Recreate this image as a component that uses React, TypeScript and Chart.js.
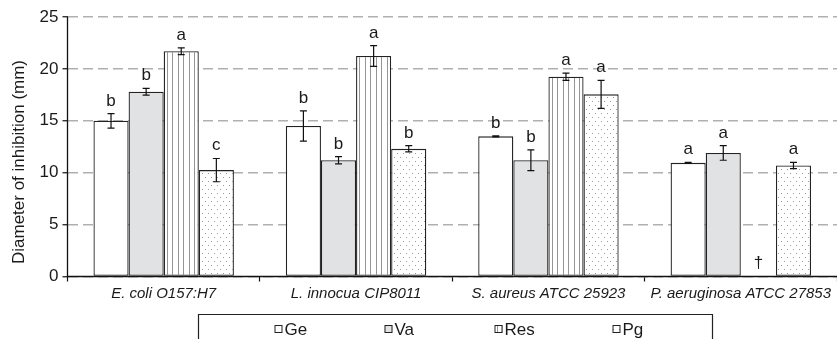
import React, { useEffect, useRef } from 'react';
import { Chart, registerables } from 'chart.js';

Chart.register(...registerables);

const categories = ['E. coli O157:H7', 'L. innocua CIP8011', 'S. aureus ATCC 25923', 'P. aeruginosa ATCC 27853'];
const seriesNames = ['Ge', 'Va', 'Res', 'Pg'];

const geValues = [15.0, 14.5, 13.5, 10.95];
const geErrors = [0.7, 1.45, 0.05, 0.05];
const geLetters = ['b', 'b', 'b', 'a'];

const vaValues = [17.8, 11.2, 11.2, 11.9];
const vaErrors = [0.33, 0.35, 1.0, 0.7];
const vaLetters = ['b', 'b', 'b', 'a'];

const resValues = [21.7, 21.25, 19.25, null];
const resErrors = [0.33, 1.0, 0.35, 0];
const resLetters = ['a', 'a', 'a', '†'];

const pgValues = [10.25, 12.3, 17.55, 10.7];
const pgErrors = [1.12, 0.3, 1.35, 0.3];
const pgLetters = ['c', 'b', 'a', 'a'];

const yTicks = [0, 5, 10, 15, 20, 25];
const yTitle = 'Diameter of inhibition (mm)';

const errorSets = [geErrors, vaErrors, resErrors, pgErrors];
const letterSets = [geLetters, vaLetters, resLetters, pgLetters];

const FONT = '"Liberation Sans", Arial, Helvetica, sans-serif';

function stripePattern(ctx: CanvasRenderingContext2D) {
  const c = document.createElement('canvas');
  c.width = 11; c.height = 4;
  const p = c.getContext('2d')!;
  p.fillStyle = '#ffffff'; p.fillRect(0, 0, 11, 4);
  p.fillStyle = '#959595';
  p.fillRect(2, 0, 1, 4);
  p.fillRect(7, 0, 1, 4);
  return ctx.createPattern(c, 'repeat')!;
}

function dotPattern(ctx: CanvasRenderingContext2D) {
  const c = document.createElement('canvas');
  c.width = 6; c.height = 8;
  const p = c.getContext('2d')!;
  p.fillStyle = '#ffffff'; p.fillRect(0, 0, 6, 8);
  p.fillStyle = '#9c9c9c';
  p.fillRect(1, 1, 1, 1);
  p.fillRect(4, 5, 1, 1);
  return ctx.createPattern(c, 'repeat')!;
}

export default function App() {
  const ref = useRef<HTMLCanvasElement>(null);

  useEffect(() => {
    const canvas = ref.current!;
    const ctx = canvas.getContext('2d')!;
    const stripes = stripePattern(ctx);
    const dots = dotPattern(ctx);
    const fills: any[] = ['#ffffff', '#e1e2e4', stripes, dots];
    const values = [geValues, vaValues, resValues, pgValues];

    const overlay = {
      id: 'overlay',
      afterDatasetsDraw(chart: any) {
        const { ctx, chartArea, scales } = chart;
        const y = scales.y;
        ctx.save();
        ctx.strokeStyle = '#111';
        ctx.lineWidth = 1.3;
        ctx.setLineDash([]);
        ctx.beginPath();
        ctx.moveTo(chartArea.left, chartArea.top);
        ctx.lineTo(chartArea.left, chartArea.bottom);
        ctx.lineTo(chartArea.right, chartArea.bottom);
        ctx.stroke();

        chart.data.datasets.forEach((ds: any, i: number) => {
          const meta = chart.getDatasetMeta(i);
          ds.data.forEach((v: number | null, j: number) => {
            const el = meta.data[j];
            const x = el.x;
            const letter = letterSets[i][j];
            ctx.fillStyle = '#1a1a1a';
            ctx.textAlign = 'center';
            ctx.textBaseline = 'alphabetic';
            if (v == null) {
              if (letter) {
                ctx.font = `17px ${FONT}`;
                ctx.fillText(letter, x, y.getPixelForValue(0) - 9);
              }
              return;
            }
            const e = errorSets[i][j];
            const top = y.getPixelForValue(v + e);
            const bot = y.getPixelForValue(v - e);
            ctx.strokeStyle = '#111';
            ctx.lineWidth = 1.2;
            ctx.beginPath();
            ctx.moveTo(x, top); ctx.lineTo(x, bot);
            ctx.moveTo(x - 3.5, top); ctx.lineTo(x + 3.5, top);
            ctx.moveTo(x - 3.5, bot); ctx.lineTo(x + 3.5, bot);
            ctx.stroke();
            if (letter) {
              ctx.font = `17px ${FONT}`;
              ctx.fillText(letter, x, top - 8);
            }
          });
        });
        ctx.restore();
      },
      afterDraw(chart: any) {
        const { ctx } = chart;
        ctx.save();
        ctx.translate(19, 162);
        ctx.rotate(-Math.PI / 2);
        ctx.fillStyle = '#1a1a1a';
        ctx.font = `17px ${FONT}`;
        ctx.textAlign = 'center';
        ctx.textBaseline = 'middle';
        ctx.fillText(yTitle, 0, 0);
        ctx.restore();

        ctx.save();
        const boxL = 198.5, boxR = 712.5, boxT = 314.5;
        ctx.strokeStyle = '#222';
        ctx.lineWidth = 1.2;
        ctx.beginPath();
        ctx.moveTo(boxL, chart.height + 2);
        ctx.lineTo(boxL, boxT);
        ctx.lineTo(boxR, boxT);
        ctx.lineTo(boxR, chart.height + 2);
        ctx.stroke();
        const offs = [76, 186, 296, 414];
        chart.data.datasets.forEach((ds: any, i: number) => {
          const sx = boxL + offs[i];
          const cy = 329;
          ctx.fillStyle = ds.backgroundColor;
          ctx.fillRect(sx, cy - 4, 8, 8);
          ctx.strokeStyle = '#222';
          ctx.lineWidth = 1;
          ctx.strokeRect(sx + 0.5, cy - 3.5, 7, 7);
          ctx.fillStyle = '#1a1a1a';
          ctx.font = `17px ${FONT}`;
          ctx.textAlign = 'left';
          ctx.textBaseline = 'middle';
          ctx.fillText(ds.label, sx + 10, cy + 1);
        });
        ctx.restore();
      },
    };

    const chart = new Chart(canvas, {
      type: 'bar',
      data: {
        labels: categories,
        datasets: seriesNames.map((name, i) => ({
          label: name,
          data: values[i] as any,
          backgroundColor: fills[i],
          borderColor: '#222',
          borderWidth: 1.3,
          borderSkipped: false,
          categoryPercentage: 0.73,
          barPercentage: 1.0,
        })),
      },
      options: {
        responsive: false,
        animation: false,
        devicePixelRatio: 1,
        layout: { padding: { top: 17, left: 0, right: 0, bottom: 0 } },
        plugins: {
          legend: { display: false },
          tooltip: { enabled: false },
        },
        scales: {
          x: {
            offset: true,
            grid: {
              offset: true,
              drawOnChartArea: false,
              drawTicks: true,
              tickLength: 5,
              tickColor: '#111',
              tickWidth: 1.2,
            },
            border: { display: false },
            ticks: {
              color: '#1a1a1a',
              font: { family: FONT, size: 15, style: 'italic' },
              padding: 3,
              maxRotation: 0,
              minRotation: 0,
              autoSkip: false,
            },
            afterFit(scale: any) { scale.height = 62.5; },
          },
          y: {
            min: 0,
            max: 25,
            afterBuildTicks(scale: any) { scale.ticks = yTicks.map((v) => ({ value: v })); },
            grid: {
              color: '#b0b0b0',
              lineWidth: 1.5,
              drawTicks: true,
              tickLength: 5,
              tickColor: '#111',
              tickWidth: 1.2,
              tickBorderDash: [],
            },
            border: { display: false, dash: [10, 5] },
            ticks: {
              color: '#1a1a1a',
              font: { family: FONT, size: 17 },
              padding: 4,
            },
            afterFit(scale: any) { scale.width = 67.5; },
          },
        },
      },
      plugins: [overlay],
    });
    return () => chart.destroy();
  }, []);

  return (
    <div style={{ position: 'absolute', left: 0, top: 0, width: 837, height: 339, background: '#fff' }}>
      <canvas ref={ref} width={837} height={339} style={{ width: 837, height: 339, display: 'block' }} />
    </div>
  );
}
